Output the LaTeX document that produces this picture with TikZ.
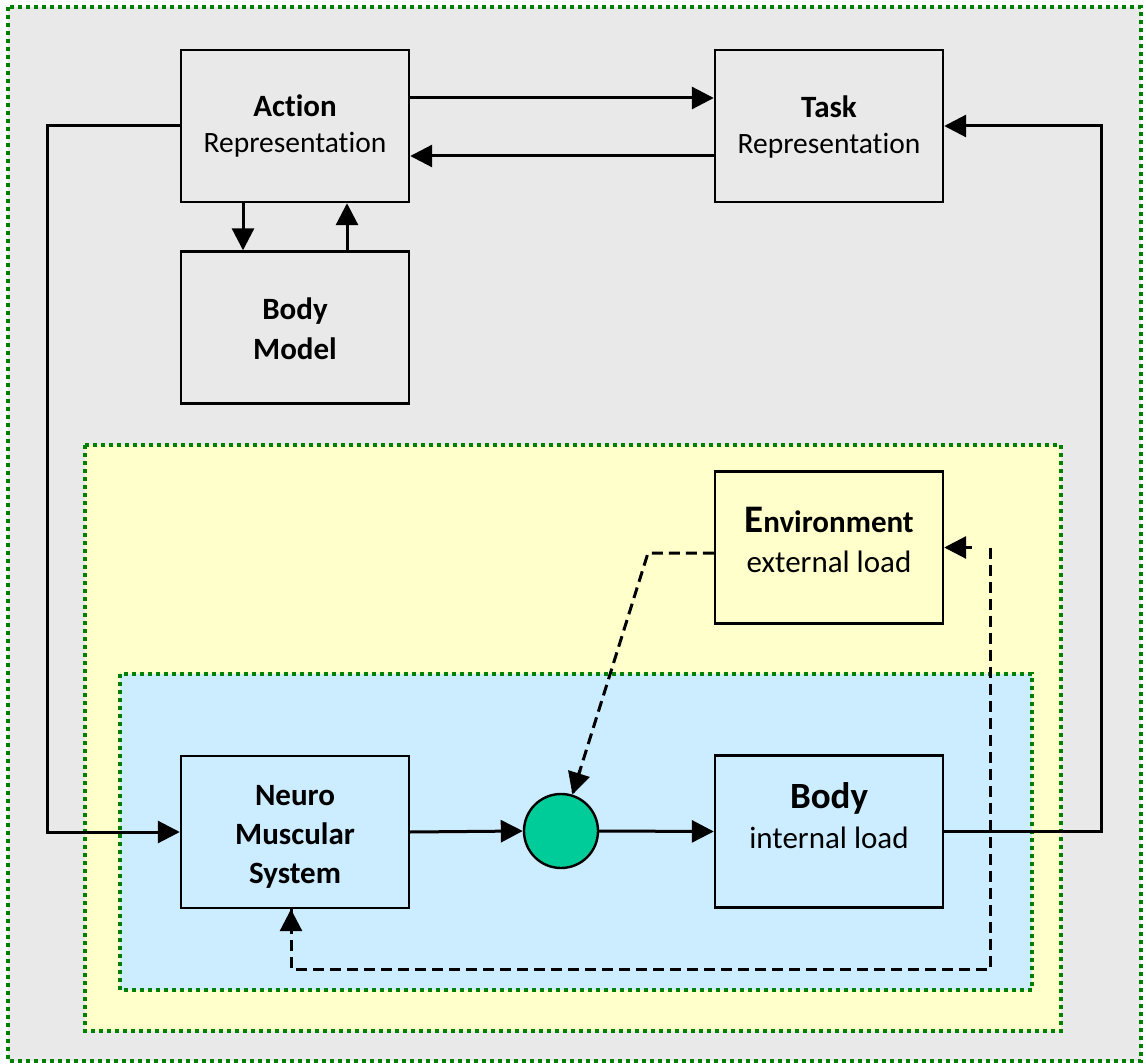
\documentclass[tikz,border=0pt]{standalone}
\usepackage{fontspec}
\setmainfont{Carlito}[Ligatures=NoCommon]
\usetikzlibrary{arrows.meta}
\definecolor{bg}{HTML}{E9E9E9}
\definecolor{yel}{HTML}{FFFFCC}
\definecolor{blu}{HTML}{CCECFF}
\definecolor{grn}{HTML}{008000}
\definecolor{tea}{HTML}{00CC99}
\begin{document}
\begin{tikzpicture}[x=1pt,y=-1pt,
  region/.style={draw=grn, line width=3.6pt, dash pattern=on 3.6pt off 4.4pt},
  box/.style={draw, line width=2.4pt, minimum width=228pt, minimum height=152pt, inner sep=0pt},
  arr/.style={line width=3pt, -{Triangle[length=22pt,width=22pt]}},
  darr/.style={line width=3pt, dash pattern=on 11pt off 6pt},
  tip/.style={-{Triangle[length=22pt,width=22pt]}},
  tb/.style={anchor=base, inner sep=0pt, font=\fontsize{31}{36}\selectfont\bfseries},
  tr/.style={anchor=base, inner sep=0pt, font=\fontsize{29.5}{35}\selectfont},
  tl/.style={anchor=base, inner sep=0pt, font=\fontsize{31}{37}\selectfont},
]
\useasboundingbox (0,0) rectangle (1146,1064);
% regions
\path[fill=bg, region] (8,7) rectangle (1141,1061);
\path[fill=yel, region] (85,445) rectangle (1061,1031);
\path[fill=blu, region] (120,674) rectangle (1032,990);

% boxes
\node[box] (action) at (295,126) {};
\node[box] (task) at (829,126) {};
\node[box] (bmodel) at (295,327.5) {};
\node[box, fill=yel] (env) at (829,547.5) {};
\node[box] (neuro) at (295,832) {};
\node[box] (body) at (829,831.5) {};
\node[circle, draw, fill=tea, line width=2.4pt, minimum size=74pt, inner sep=0pt] (circ) at (561,831) {};

% texts
\node[tb] (actT1) at (295,117) {Action};
\node[tr] (actT2) at (295,153) {Representation};
\node[tb] (taskT1) at (829,118) {Task};
\node[tr] (taskT2) at (829,154) {Representation};
\node[tb] (bmT1) at (295,320) {Body};
\node[tb] (bmT2) at (295,360) {Model};
\node[tb] (envT1) at (829,532) {{\fontsize{39}{39}\selectfont E}nvironment};
\node[tl] (envT2) at (829,572) {external load};
\node[tb] (nT1) at (295,805) {Neuro};
\node[tb] (nT2) at (295,844) {Muscular};
\node[tb] (nT3) at (295,883) {System};
\node[tb, font=\fontsize{37}{40}\selectfont\bfseries] (bT1) at (829,808) {Body};
\node[tl] (bT2) at (829,848) {internal load};

% helper coordinates
\coordinate (y98) at (0,98);
\coordinate (y156) at (0,156);
\coordinate (x243) at (243,0);
\coordinate (x347) at (347,0);
\coordinate (lc) at (47,0);
\coordinate (rc) at (1101,0);
\coordinate (dk) at (648,553);
\coordinate (fbR) at (990,969);
\coordinate (fbL) at (291,969);

% solid connectors
\draw[arr] (action.east |- y98) -- (task.west |- y98);
\draw[arr] (task.west |- y156) -- (action.east |- y156);
\draw[arr] (action.south -| x243) -- (bmodel.north -| x243);
\draw[arr] (bmodel.north -| x347) -- (action.south -| x347);
\draw[arr] (action.west) -- (lc |- action.west) -- (lc |- neuro.west) -- (neuro.west);
\draw[arr] (neuro.east) -- (circ.west);
\draw[arr] (circ.east) -- (body.west);
\draw[arr] (body.east) -- (rc |- body.east) -- (rc |- task.east) -- (task.east);

% dashed connectors
\draw[darr] (env.west |- dk) -- (dk) -- (circ);
\draw[darr] (fbR |- env.east) -- (fbR) -- (fbL) -- (neuro.south -| fbL);
\draw[line width=3pt, tip] (fbR |- env.east) ++(-18,0) -- (env.east);
\draw[line width=3pt, tip] (fbL) ++(0,-50) -- (neuro.south -| fbL);
\path (dk) -- (circ) coordinate[pos=0.9] (dtip0);
\draw[line width=3pt, tip] (dtip0) -- (circ);
\end{tikzpicture}
\end{document}
